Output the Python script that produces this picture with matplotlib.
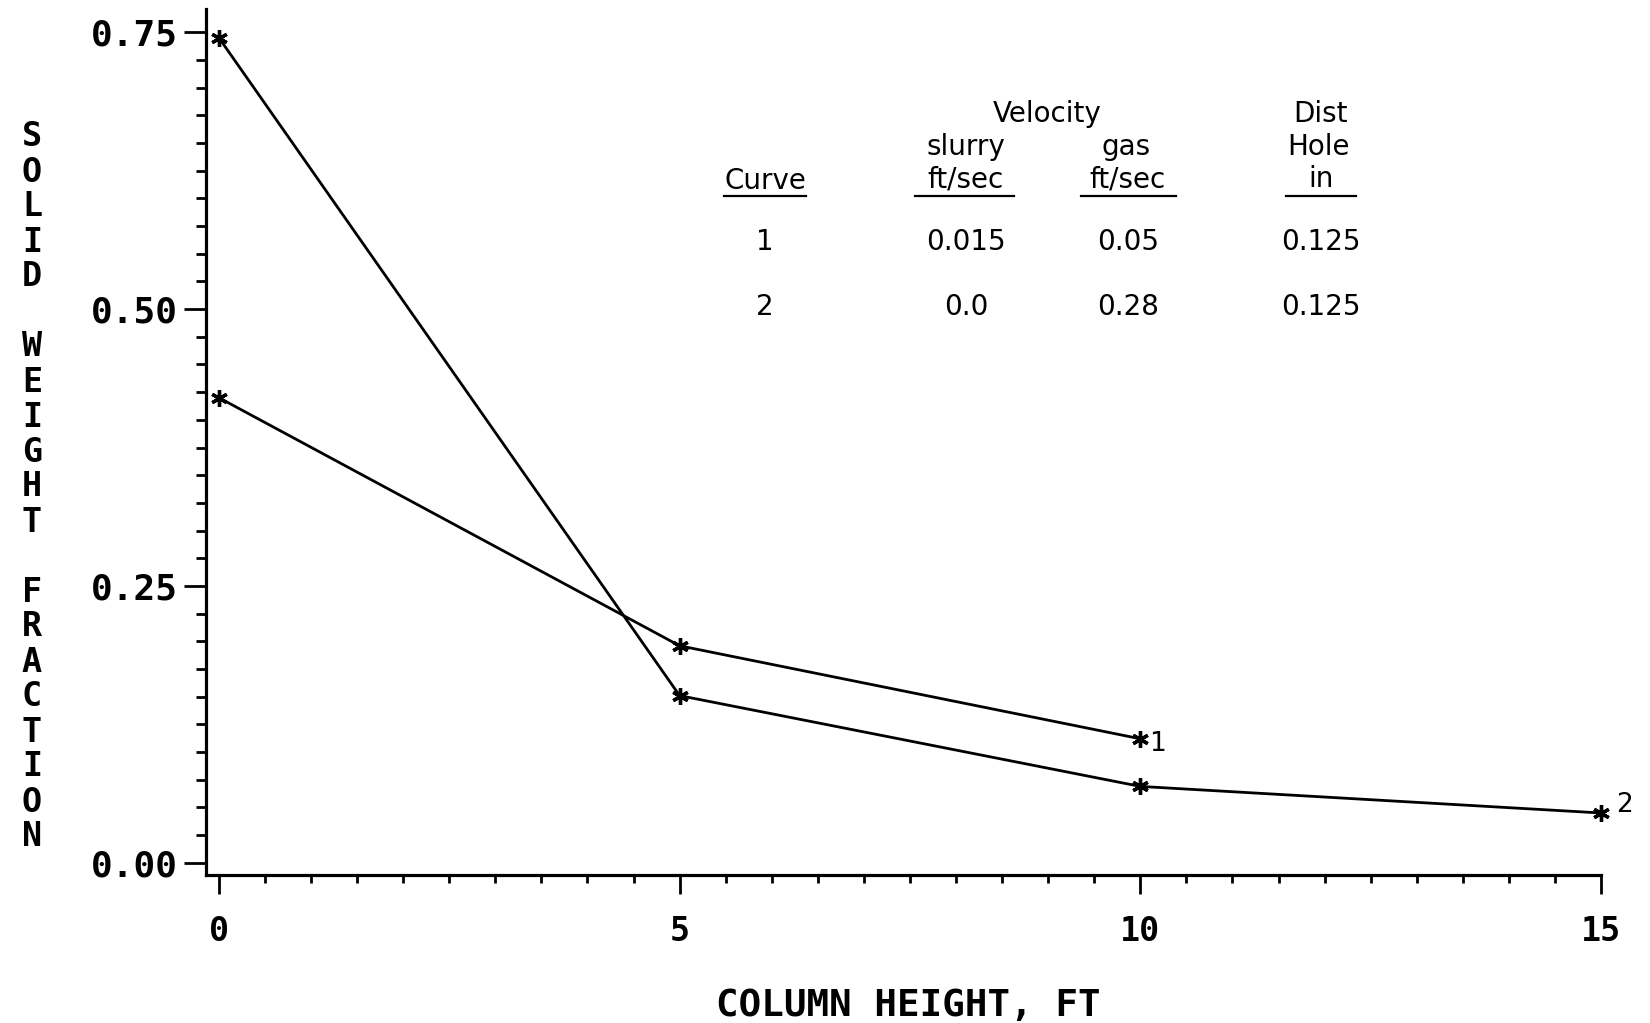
import matplotlib
matplotlib.use("Agg")
import matplotlib.pyplot as plt
from matplotlib.lines import Line2D
import numpy as np

# data
height_1 = [0, 5, 10]
frac_1 = [0.42, 0.196, 0.112]
height_2 = [0, 5, 10, 15]
frac_2 = [0.745, 0.151, 0.069, 0.045]

curve_ids = ["1", "2"]
slurry_vel = ["0.015", "0.0"]
gas_vel = ["0.05", "0.28"]
dist_hole = ["0.125", "0.125"]

W, H = 1650, 1023

def px(x, y):
    # full-size pixel coords -> figure fraction
    return x / W, 1 - y / H

fig = plt.figure(figsize=(W / 100, H / 100), dpi=100)
ax = fig.add_axes([206 / W, 148 / H, 1395 / W, 866 / H])

mono = "DejaVu Sans Mono"
narrow = ["Liberation Sans Narrow", "DejaVu Sans"]

for hx, fy in [(height_1, frac_1), (height_2, frac_2)]:
    ax.plot(hx, fy, color="black", lw=2.0, marker=(6, 2, 0), ms=12, mew=2.4,
            clip_on=False)
ax.annotate(curve_ids[0], (height_1[-1], frac_1[-1]), xytext=(6, -4),
            textcoords="offset points", fontsize=19, family=narrow, va="center")
ax.annotate(curve_ids[1], (height_2[-1], frac_2[-1]), xytext=(11, 6),
            textcoords="offset points", fontsize=19, family=narrow, va="center")

ax.set_xlim(-0.14, 15)
ax.set_ylim(-0.011, 0.771)
for s in ["top", "right"]:
    ax.spines[s].set_visible(False)
for s in ["left", "bottom"]:
    ax.spines[s].set_linewidth(2.3)

ax.set_xticks([0, 5, 10, 15])
ax.set_xticks(np.arange(0, 15.01, 0.5), minor=True)
ax.set_yticks([0, 0.25, 0.5, 0.75])
ax.set_yticks(np.arange(0, 0.751, 0.025), minor=True)
ax.set_xticklabels(["0", "5", "10", "15"], family=mono, weight="bold", fontsize=24)
ax.set_yticklabels(["0.00", "0.25", "0.50", "0.75"], family=mono, weight="bold", fontsize=26)
ax.tick_params(axis="x", which="major", length=14, width=2, pad=15)
ax.tick_params(axis="x", which="minor", length=6, width=2)
ax.tick_params(axis="y", which="major", length=16, width=2, pad=4)
ax.tick_params(axis="y", which="minor", length=7, width=2)

ax.set_xlabel("COLUMN HEIGHT, FT", family=mono, weight="bold", fontsize=27)
ax.xaxis.set_label_coords((908 - 206) / 1395, -0.13)

# stacked y label
ylab = "SOLID WEIGHT FRACTION"
for i, ch in enumerate(ylab):
    fig.text(*px(32, 137 + i * 35), ch, family=mono, weight="bold", fontsize=24,
             ha="center", va="center")

# table of run conditions
fs = 20
heads = [
    ("Velocity", 1047, 114), ("slurry", 966, 147), ("ft/sec", 966, 179),
    ("gas", 1126, 147), ("ft/sec", 1128, 179),
    ("Dist", 1321, 114), ("Hole", 1319, 147), ("in", 1321, 179),
    ("Curve", 765, 181),
]
for t, x, y in heads:
    fig.text(*px(x, y), t, family=narrow, fontsize=fs, ha="center", va="center")

cols = [765, 966, 1128, 1321]
rows_y = [242, 307]
for r in range(2):
    vals = [curve_ids[r], slurry_vel[r], gas_vel[r], dist_hole[r]]
    for v, x in zip(vals, cols):
        fig.text(*px(x, rows_y[r]), v, family=narrow, fontsize=fs, ha="center", va="center")

for x0, x1 in [(724, 806), (915, 1014), (1081, 1176), (1286, 1356)]:
    a = px(x0, 196)
    b = px(x1, 196)
    fig.add_artist(Line2D([a[0], b[0]], [a[1], b[1]], color="black", lw=1.6))

fig.savefig("out.png", dpi=100)
